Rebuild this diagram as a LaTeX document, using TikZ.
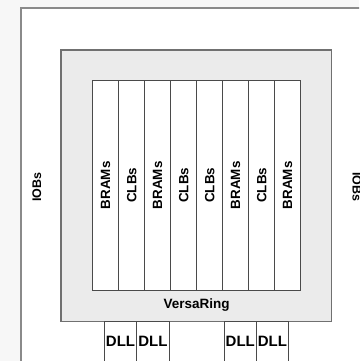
\documentclass[tikz,border=0pt]{standalone}
\usepackage{fontspec}
\setmainfont{Liberation Sans}
\usetikzlibrary{positioning}
\definecolor{frameline}{HTML}{8A8A8A}
\definecolor{ringline}{HTML}{707070}
\definecolor{ringfill}{HTML}{EBEBEB}
\definecolor{colline}{HTML}{4A4A4A}
\definecolor{pagebg}{HTML}{F7F7F7}

\begin{document}
\begin{tikzpicture}[x=1pt, y=-1pt,
    col/.style={rectangle, draw=colline, line width=0.9pt, fill=white,
                rotate=90, minimum width=209.3pt, minimum height=26pt,
                inner sep=0pt, font=\fontsize{13.4}{16}\selectfont\bfseries},
    dll/.style={rectangle, draw=colline, line width=0.9pt,
                minimum width=32.4pt, minimum height=40pt, inner sep=0pt,
                font=\fontsize{15}{18}\selectfont\bfseries},
    iob/.style={font=\fontsize{12.5}{15}\selectfont\bfseries}
]
\clip (0,0) rectangle (359,361);
\fill[pagebg] (0,0) rectangle (359,361);

% outer IOB frame, runs off the page to the right and bottom
\draw[frameline, line width=1.8pt, fill=white] (20.7,8.3) rectangle (420,420);
\node[iob, rotate=90]  (iobl) at (36.7,187) {IOBs};
\node[iob, rotate=-90] (iobr) at (357,187) {IOBs};

% VersaRing
\node[rectangle, draw=ringline, line width=1.3pt, fill=ringfill,
      minimum width=270.7pt, minimum height=271.7pt, inner sep=0pt]
      (ring) at (196.35,185.85) {};
\node[font=\fontsize{13.5}{16}\selectfont\bfseries] (vring) at (196.7,305.5) {VersaRing};

% columns
\node[col] (c1) at (105.7,185.3) {BRAMs};
\node[col] (c2) at (131.7,185.3) {CLBs};
\node[col] (c3) at (157.7,185.3) {BRAMs};
\node[col] (c4) at (183.7,185.3) {CLBs};
\node[col] (c5) at (209.7,185.3) {CLBs};
\node[col] (c6) at (235.7,185.3) {BRAMs};
\node[col] (c7) at (261.7,185.3) {CLBs};
\node[col] (c8) at (287.7,185.3) {BRAMs};

% DLLs
\node[dll] (dll1) at (120.5,341.7) {DLL};
\node[dll] (dll2) at (152.9,341.7) {DLL};
\node[dll] (dll3) at (240.3,341.7) {DLL};
\node[dll] (dll4) at (272.4,341.7) {DLL};
\end{tikzpicture}
\end{document}
